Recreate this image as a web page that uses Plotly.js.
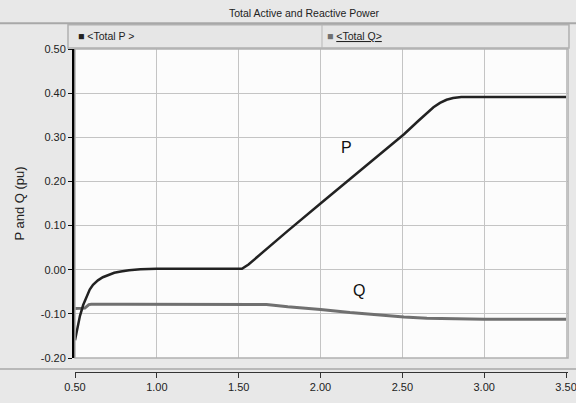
<!DOCTYPE html>
<html>
<head>
<meta charset="utf-8">
<script src="https://cdn.plot.ly/plotly-3.0.1.min.js"></script>
<style>html,body{margin:0;padding:0;background:#e8e8e8;}#chart{width:576px;height:403px;}</style>
</head>
<body>
<div id="chart"></div>
<script>
// Total P (pu) vs time (s)
const pTime = [0.50, 0.512, 0.53, 0.55, 0.573, 0.59, 0.61, 0.64, 0.67, 0.70, 0.74, 0.78, 0.83, 0.90, 1.00, 1.20, 1.40, 1.52, 1.56, 1.60, 1.80, 2.00, 2.20, 2.40, 2.51, 2.60, 2.69, 2.73, 2.77, 2.81, 2.86, 3.00, 3.20, 3.50];
const pValues = [-0.160, -0.135, -0.105, -0.080, -0.058, -0.045, -0.034, -0.024, -0.017, -0.012, -0.007, -0.004, -0.001, 0.001, 0.002, 0.002, 0.002, 0.002, 0.012, 0.025, 0.088, 0.150, 0.212, 0.274, 0.307, 0.338, 0.368, 0.378, 0.385, 0.389, 0.391, 0.391, 0.391, 0.391];
// Total Q (pu) vs time (s)
const qTime = [0.50, 0.56, 0.585, 0.60, 0.80, 1.00, 1.20, 1.40, 1.60, 1.67, 1.80, 1.87, 2.00, 2.18, 2.30, 2.51, 2.65, 2.79, 3.00, 3.20, 3.50];
const qValues = [-0.088, -0.087, -0.079, -0.078, -0.078, -0.078, -0.078, -0.078, -0.078, -0.079, -0.084, -0.086, -0.090, -0.097, -0.101, -0.107, -0.110, -0.111, -0.112, -0.112, -0.112];
const xTicks = [0.5, 1.0, 1.5, 2.0, 2.5, 3.0, 3.5];
const xTickLabels = ["0.50", "1.00", "1.50", "2.00", "2.50", "3.00", "3.50"];
const yTicks = [-0.2, -0.1, 0, 0.1, 0.2, 0.3, 0.4, 0.5];
const yTickLabels = ["-0.20", "-0.10", "0.00", "0.10", "0.20", "0.30", "0.40", "0.50"];

const font = {family: "Liberation Sans, Arial, sans-serif", size: 11, color: "#222"};

const traces = [
  {x: qTime, y: qValues, mode: "lines", name: "<Total Q>", line: {color: "#707070", width: 3}},
  {x: pTime, y: pValues, mode: "lines", name: "<Total P >", line: {color: "#222222", width: 2.5}}
];

const layout = {
  width: 576, height: 403,
  paper_bgcolor: "#e8e8e8",
  plot_bgcolor: "#fcfcfc",
  margin: {l: 75, r: 8, t: 49, b: 31},
  showlegend: false,
  font: font,
  xaxis: {
    range: [0.5, 3.512], anchor: "free", position: 0,
    tickvals: xTicks, ticktext: xTickLabels,
    ticks: "outside", ticklen: 5, tickcolor: "#333", tickwidth: 1,
    showline: true, linecolor: "#333", linewidth: 1,
    showgrid: true, gridcolor: "#c4c4c4", gridwidth: 1,
    zeroline: false, tickfont: font, fixedrange: true,
    ticklabeloverflow: "allow"
  },
  yaxis: {
    range: [-0.2, 0.5], domain: [0.0433, 1],
    tickvals: yTicks, ticktext: yTickLabels,
    ticks: "outside", ticklen: 4, tickcolor: "#111", tickwidth: 1,
    showline: true, linecolor: "#000", linewidth: 3,
    showgrid: true, gridcolor: "#c4c4c4", gridwidth: 1,
    zeroline: false, tickfont: font, fixedrange: true,
    title: {text: "P and Q (pu)", font: {family: "Liberation Sans, Arial, sans-serif", size: 13, color: "#222"}, standoff: 14}
  },
  shapes: [
    {type: "line", xref: "paper", yref: "paper", x0: -0.16, x1: 1.02, y0: 1.08, y1: 1.08, line: {color: "#a8a8a8", width: 2}},
    {type: "rect", xref: "paper", yref: "paper", x0: -0.0142, x1: 1.002, y0: 1.003, y1: 1.075, fillcolor: "#e6e6e6", line: {color: "#b0b0b0", width: 1.5}},
    {type: "line", xref: "paper", yref: "paper", x0: 0.501, x1: 0.501, y0: 1.003, y1: 1.075, line: {color: "#b8b8b8", width: 1}},
    {type: "rect", xref: "paper", yref: "paper", x0: 0, x1: 1, y0: 0.0433, y1: 1, fillcolor: "rgba(0,0,0,0)", line: {color: "#b0b0b0", width: 1.5}},
    {type: "line", xref: "paper", yref: "paper", x0: -0.16, x1: 1.02, y0: 0.0093, y1: 0.0093, line: {color: "#a8a8a8", width: 1.5}}
  ],
  annotations: [
    {xref: "paper", yref: "paper", x: 0.464, y: 1.111, text: "Total Active and Reactive Power", showarrow: false, font: {family: font.family, size: 10.5, color: "#222"}, xanchor: "center", yanchor: "middle"},
    {xref: "paper", yref: "paper", x: 0.002, y: 1.041, text: "■ <Total P >", showarrow: false, font: {family: font.family, size: 10.5, color: "#222"}, xanchor: "left", yanchor: "middle"},
    {xref: "paper", yref: "paper", x: 0.507, y: 1.041, text: "<span style='color:#707070'>■</span> <u><Total Q></u>", showarrow: false, font: {family: font.family, size: 10.5, color: "#222"}, xanchor: "left", yanchor: "middle"},
    {x: 2.16, y: 0.277, text: "P", showarrow: false, font: {family: "Liberation Sans, Arial, sans-serif", size: 16, color: "#111"}},
    {x: 2.235, y: -0.048, text: "Q", showarrow: false, font: {family: "Liberation Sans, Arial, sans-serif", size: 16, color: "#111"}}
  ]
};

Plotly.newPlot("chart", traces, layout, {displayModeBar: false, staticPlot: true});
</script>
</body>
</html>
